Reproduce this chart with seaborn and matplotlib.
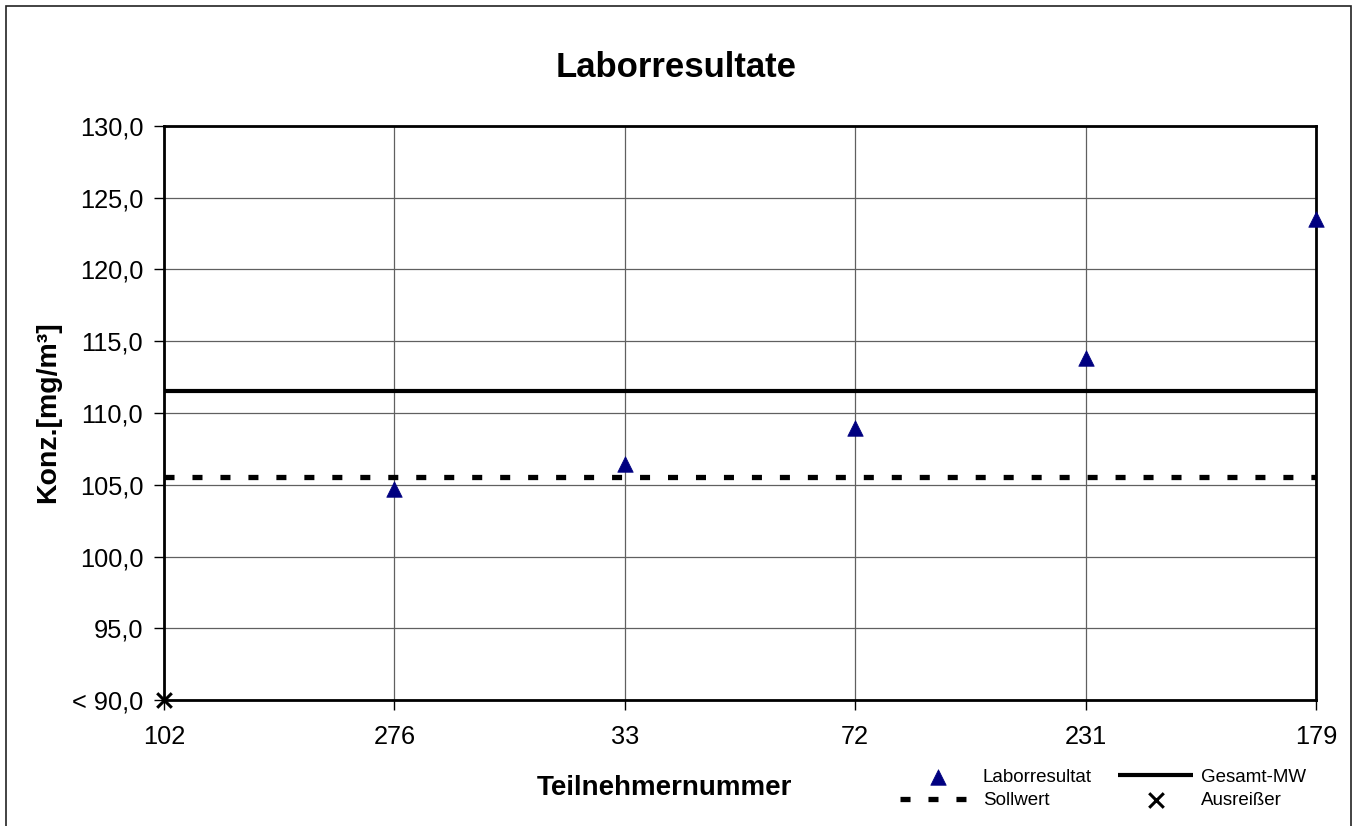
import matplotlib
matplotlib.use("Agg")
import matplotlib.pyplot as plt
import seaborn as sns
import numpy as np
import pandas as pd
from matplotlib.patches import Rectangle

# ---- data ----
participants = ["102", "276", "33", "72", "231", "179"]
lab_participants = ["276", "33", "72", "231", "179"]
lab_values = [104.7, 106.45, 108.95, 113.8, 123.5]
outlier_participants = ["102"]
outlier_values = [90.0]
overall_mean = 111.5
target_value = 105.55
y_ticks = [90, 95, 100, 105, 110, 115, 120, 125, 130]
y_tick_labels = ["< 90,0", "95,0", "100,0", "105,0", "110,0", "115,0", "120,0", "125,0", "130,0"]

sns.set_style("white")
plt.rcParams["font.family"] = ["Liberation Sans", "DejaVu Sans"]
plt.rcParams["text.color"] = "black"
plt.rcParams["axes.labelcolor"] = "black"
plt.rcParams["xtick.color"] = "black"
plt.rcParams["ytick.color"] = "black"

W, H = 1356, 826
fig = plt.figure(figsize=(W / 100, H / 100), dpi=100)
ax = fig.add_axes([164 / W, 1 - 700 / H, (1316 - 164) / W, (700 - 126) / H])

# establish category order on the x axis
ax.xaxis.update_units(np.array(participants))

df_lab = pd.DataFrame({"Teilnehmer": lab_participants, "Wert": lab_values})
df_out = pd.DataFrame({"Teilnehmer": outlier_participants, "Wert": outlier_values})

ax.axhline(overall_mean, color="black", lw=3.0, label="Gesamt-MW", zorder=3,
           solid_capstyle="butt")
ax.axhline(target_value, color="black", lw=3.8, dashes=(1.9, 3.4), label="Sollwert",
           zorder=3)
sns.scatterplot(data=df_lab, x="Teilnehmer", y="Wert", ax=ax, marker="^", s=125,
                color="#000080", edgecolor="#000080", linewidth=0.5,
                label="Laborresultat", zorder=5, clip_on=False, legend=False)
sns.scatterplot(data=df_out, x="Teilnehmer", y="Wert", ax=ax, marker="x", s=110,
                color="black", linewidth=2.2, label="Ausreißer", zorder=6,
                clip_on=False, legend=False)

ax.set_xlim(0, len(participants) - 1)
ax.set_ylim(90, 130)
ax.set_yticks(y_ticks)
ax.set_yticklabels(y_tick_labels)
ax.set_xticks(range(len(participants)))
ax.set_xticklabels(participants)
ax.set_xlabel("")
ax.set_ylabel("")

ax.grid(True, color="#606060", lw=0.9)
ax.set_axisbelow(True)
for s in ax.spines.values():
    s.set_color("black")
    s.set_linewidth(2.0)
    s.set_visible(True)
ax.tick_params(axis="both", which="major", direction="out", length=7, width=1,
               color="black", labelsize=18.3, labelcolor="black", left=True, bottom=True)
ax.tick_params(axis="y", pad=8)
ax.tick_params(axis="x", pad=11)

# titles / labels
fig.text(676 / W, 1 - 77 / H, "Laborresultate", ha="center", va="baseline",
         fontsize=25, fontweight="bold", color="black")
fig.text(664 / W, 1 - 795 / H, "Teilnehmernummer", ha="center", va="baseline",
         fontsize=20, fontweight="bold", color="black")
fig.text(48 / W, 1 - 412 / H, "Konz.[mg/m³]", ha="center", va="center",
         rotation=90, fontsize=20.5, fontweight="bold", color="black")

# legend
handles, labels = ax.get_legend_handles_labels()
hmap = dict(zip(labels, handles))
order = ["Laborresultat", "Sollwert", "Gesamt-MW", "Ausreißer"]
leg = fig.legend([hmap[k] for k in order], order, loc="center",
                 bbox_to_anchor=(1103 / W, 1 - 789 / H), bbox_transform=fig.transFigure,
                 ncol=2, frameon=False, fontsize=13.5, handlelength=4.0,
                 handletextpad=0.4, columnspacing=1.4, labelspacing=0.35,
                 scatterpoints=1, borderpad=0, borderaxespad=0)
for t in leg.get_texts():
    t.set_color("black")

# outer frame
fig.patches.append(Rectangle((6 / W, -0.01), (1351 - 6) / W, 1 - 6 / H + 0.01,
                             transform=fig.transFigure, fill=False,
                             edgecolor="#222222", lw=1.2))

fig.savefig("out.png", dpi=100)
